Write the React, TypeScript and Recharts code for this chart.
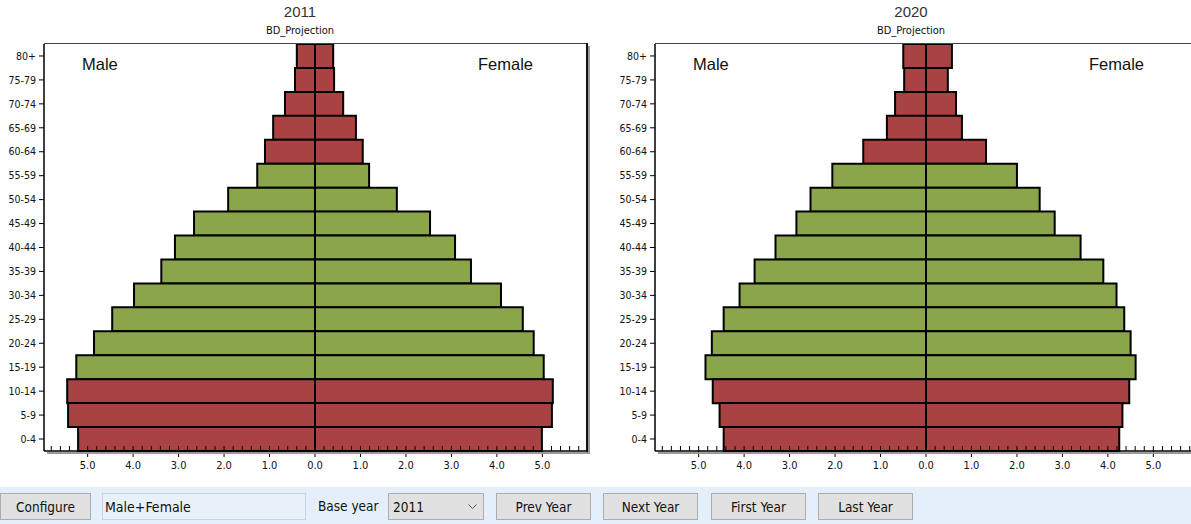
import React from 'react';
import { BarChart, Bar, XAxis, YAxis, Cell, ReferenceLine } from 'recharts';

const ageGroups = ['80+', '75-79', '70-74', '65-69', '60-64', '55-59', '50-54', '45-49', '40-44', '35-39', '30-34', '25-29', '20-24', '15-19', '10-14', '5-9', '0-4'];
const groupKind = ['old', 'old', 'old', 'old', 'old', 'work', 'work', 'work', 'work', 'work', 'work', 'work', 'work', 'work', 'young', 'young', 'young'];

const male2011 = [0.40, 0.44, 0.66, 0.92, 1.10, 1.27, 1.91, 2.66, 3.08, 3.38, 3.98, 4.46, 4.86, 5.25, 5.45, 5.43, 5.21];
const female2011 = [0.40, 0.42, 0.62, 0.90, 1.05, 1.19, 1.80, 2.53, 3.08, 3.43, 4.09, 4.57, 4.81, 5.03, 5.23, 5.21, 4.99];
const male2020 = [0.50, 0.48, 0.68, 0.86, 1.38, 2.06, 2.54, 2.85, 3.31, 3.77, 4.10, 4.45, 4.71, 4.85, 4.69, 4.54, 4.45];
const female2020 = [0.57, 0.48, 0.66, 0.79, 1.32, 2.00, 2.50, 2.83, 3.40, 3.90, 4.19, 4.36, 4.50, 4.61, 4.47, 4.32, 4.25];

const years = ['2011', '2020'];
const subtitle = 'BD_Projection';
const axisLimit = 5.96;
const xTicks: number[] = [];
for (let i = -29; i <= 29; i++) xTicks.push(Math.round(i * 2) / 10);

const RED = '#A94343';
const GREEN = '#8BA54B';
const FONT = '"DejaVu Sans Condensed", "DejaVu Sans", "Liberation Sans", sans-serif';

const XTick = (props: any) => {
  const { x, y, payload } = props;
  const v = payload.value as number;
  const major = Math.abs(v - Math.round(v)) < 1e-6;
  return (
    <g>
      <line x1={x} x2={x} y1={y - 5} y2={y} stroke="#000" strokeWidth={1} />
      {major && (
        <>
          <line x1={x} x2={x} y1={y} y2={y + 6} stroke="#000" strokeWidth={1} />
          <text x={x} y={y + 18} textAnchor="middle" fontSize={11} fill="#111122" fontFamily={FONT}>
            {Math.abs(v).toFixed(1)}
          </text>
        </>
      )}
    </g>
  );
};

function Pyramid({ left, year, male, female }: { left: number; year: string; male: number[]; female: number[] }) {
  const data = ageGroups.map((age, i) => ({ age, male: -male[i], female: female[i], kind: groupKind[i] }));
  const plotL = left + 44;
  const plotR = left + 586;
  return (
    <>
      <div style={{ position: 'absolute', left: left + 200, width: 200, top: 3, textAlign: 'center', fontSize: 15, fontFamily: '"Liberation Sans", Arial, sans-serif', color: '#333' }}>{year}</div>
      <div style={{ position: 'absolute', left: left + 200, width: 200, top: 24, textAlign: 'center', fontSize: 11, fontFamily: FONT, color: '#111' }}>{subtitle}</div>
      <div style={{ position: 'absolute', left: 0, top: 0 }}>
        <div style={{ position: 'absolute', left: left, top: 0 }}>
          <BarChart
            width={600}
            height={480}
            data={data}
            layout="vertical"
            stackOffset="sign"
            barCategoryGap={0}
            margin={{ top: 44, right: 14, bottom: 0, left: 0 }}
          >
            <XAxis
              type="number"
              domain={[-axisLimit, axisLimit]}
              allowDataOverflow
              ticks={xTicks}
              interval={0}
              tickLine={false}
              tickSize={0}
              tickMargin={0}
              tick={<XTick />}
              height={29}
              axisLine={{ stroke: '#000', strokeWidth: 1.5 }}
            />
            <YAxis
              type="category"
              dataKey="age"
              width={44}
              tickSize={5}
              tickMargin={3}
              interval={0}
              axisLine={{ stroke: '#000', strokeWidth: 1.5 }}
              tickLine={{ stroke: '#000' }}
              tick={{ fontSize: 10.5, fill: '#111', fontFamily: FONT }}
            />
            <Bar dataKey="male" stackId="pop" stroke="#000" strokeWidth={2} isAnimationActive={false}>
              {data.map((d, i) => (
                <Cell key={i} fill={d.kind === 'work' ? GREEN : RED} />
              ))}
            </Bar>
            <Bar dataKey="female" stackId="pop" stroke="#000" strokeWidth={2} isAnimationActive={false}>
              {data.map((d, i) => (
                <Cell key={i} fill={d.kind === 'work' ? GREEN : RED} />
              ))}
            </Bar>
            <ReferenceLine x={0} stroke="#000" strokeWidth={2} />
          </BarChart>
        </div>
      </div>
      <div style={{ position: 'absolute', left: plotL, top: 43, width: plotR - plotL, height: 1, background: '#444' }} />
      <div style={{ position: 'absolute', left: plotR, top: 43, width: 1.5, height: 409, background: '#111' }} />
      <div style={{ position: 'absolute', left: plotR + 1.5, top: 46, width: 2, height: 408, background: '#9a9a9a' }} />
      <div style={{ position: 'absolute', left: plotL + 3, top: 452, width: plotR - plotL, height: 2, background: '#9a9a9a' }} />
      <div style={{ position: 'absolute', left: left + 82, top: 55, fontSize: 16.5, fontFamily: '"Liberation Sans", Arial, sans-serif', color: '#111' }}>Male</div>
      <div style={{ position: 'absolute', left: left + 478, top: 55, fontSize: 16.5, fontFamily: '"Liberation Sans", Arial, sans-serif', color: '#111' }}>Female</div>
    </>
  );
}

const btn: React.CSSProperties = {
  position: 'absolute',
  top: 493,
  height: 27,
  boxSizing: 'border-box',
  background: '#E1E1E1',
  border: '1px solid #ADADAD',
  fontFamily: FONT,
  fontSize: 13.5,
  color: '#111',
  display: 'flex',
  alignItems: 'center',
  justifyContent: 'center',
};

const buttonLabels = ['Prev Year', 'Next Year', 'First Year', 'Last Year'];
const buttonLefts = [496, 603, 711, 818];

export default function App() {
  return (
    <div style={{ position: 'fixed', left: 0, top: 0, width: 1191, height: 524, overflow: 'hidden', background: '#fff' }}>
      <Pyramid left={0} year={years[0]} male={male2011} female={female2011} />
      <Pyramid left={611} year={years[1]} male={male2020} female={female2020} />
      <div style={{ position: 'absolute', left: 0, top: 487, width: 1191, height: 37, background: '#E4EFF9' }} />
      <div style={{ ...btn, left: 0, width: 91 }}>Configure</div>
      <div style={{ ...btn, left: 102, width: 204, background: '#E8F1FA', border: '1px solid #C9D3DD', justifyContent: 'flex-start', paddingLeft: 2, fontSize: 14 }}>Male+Female</div>
      <div style={{ position: 'absolute', left: 318, top: 498, fontFamily: FONT, fontSize: 13.5, color: '#111' }}>Base year</div>
      <div style={{ ...btn, left: 388, width: 96, justifyContent: 'flex-start', paddingLeft: 4 }}>
        <span>2011</span>
        <svg style={{ position: 'absolute', right: 6, top: 10 }} width="9" height="6">
          <polyline points="0.5,0.5 4.5,4.5 8.5,0.5" fill="none" stroke="#555" strokeWidth="1" />
        </svg>
      </div>
      {buttonLabels.map((b, i) => (
        <div key={b} style={{ ...btn, left: buttonLefts[i], width: 95 }}>{b}</div>
      ))}
    </div>
  );
}
